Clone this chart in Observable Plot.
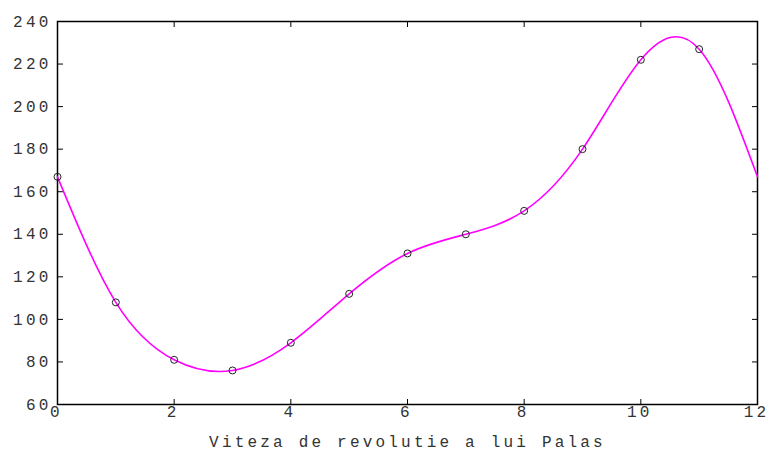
<!DOCTYPE html>
<html>
<head>
<meta charset="utf-8">
<script src="https://cdn.jsdelivr.net/npm/d3@7"></script>
<script src="https://cdn.jsdelivr.net/npm/@observablehq/plot@0.6"></script>
<style>
  html, body { margin: 0; padding: 0; background: #fff; }
</style>
</head>
<body>
<div id="chart"></div>
<script>
const xs = [0, 1, 2, 3, 4, 5, 6, 7, 8, 9, 10, 11];
const ys = [167, 108, 81, 76, 89, 112, 131, 140, 151, 180, 222, 227];
// curve closes back to the first value at x = 12
const curveX = [...xs, 12];
const curveY = [...ys, 167];
const xTicks = [0, 2, 4, 6, 8, 10, 12];
const yTicks = [60, 80, 100, 120, 140, 160, 180, 200, 220, 240];
const xLabel = "Viteza de revolutie a lui Palas";

const points = xs.map((x, i) => ({x, y: ys[i]}));
const curve = curveX.map((x, i) => ({x, y: curveY[i]}));

const chart = Plot.plot({
  width: 769,
  height: 451,
  marginLeft: 57,
  marginRight: 12,
  marginTop: 21,
  marginBottom: 47,
  style: {fontFamily: "Liberation Mono, DejaVu Sans Mono, monospace", fontSize: "16px", letterSpacing: "3.2px", background: "#fff"},
  x: {domain: [0, 12]},
  y: {domain: [60, 240]},
  marks: [
    Plot.frame({stroke: "#000", strokeWidth: 1.5}),
    Plot.axisY(yTicks, {anchor: "left", tickSize: -6, tickFormat: () => "", stroke: "#000", label: null}),
    Plot.axisY(yTicks, {anchor: "right", tickSize: -6, tickFormat: () => "", stroke: "#000", label: null}),
    Plot.axisX(xTicks, {anchor: "top", tickSize: -5, tickFormat: () => "", stroke: "#000", label: null}),
    Plot.axisX(xTicks, {anchor: "bottom", tickSize: -5, tickFormat: () => "", stroke: "#000", label: null}),
    Plot.axisY(yTicks, {anchor: "left", tickSize: 0, tickPadding: 6, label: null, fill: "#333", fontSize: 16}),
    Plot.axisX(xTicks, {anchor: "bottom", tickSize: 0, tickPadding: 1, dx: -1, label: null, fill: "#333", fontSize: 16}),
    Plot.axisX(xTicks, {anchor: "bottom", tickSize: 0, tickFormat: () => "", label: xLabel, labelAnchor: "center", labelArrow: "none", labelOffset: 42, fill: "#333", fontSize: 16}),
    Plot.line(curve, {x: "x", y: "y", curve: "natural", stroke: "#ff00ff", strokeWidth: 1.6}),
    Plot.dot(points, {x: "x", y: "y", r: 3.5, stroke: "#222", strokeWidth: 1, fill: "none"})
  ]
});
document.getElementById("chart").appendChild(chart);
</script>
</body>
</html>
